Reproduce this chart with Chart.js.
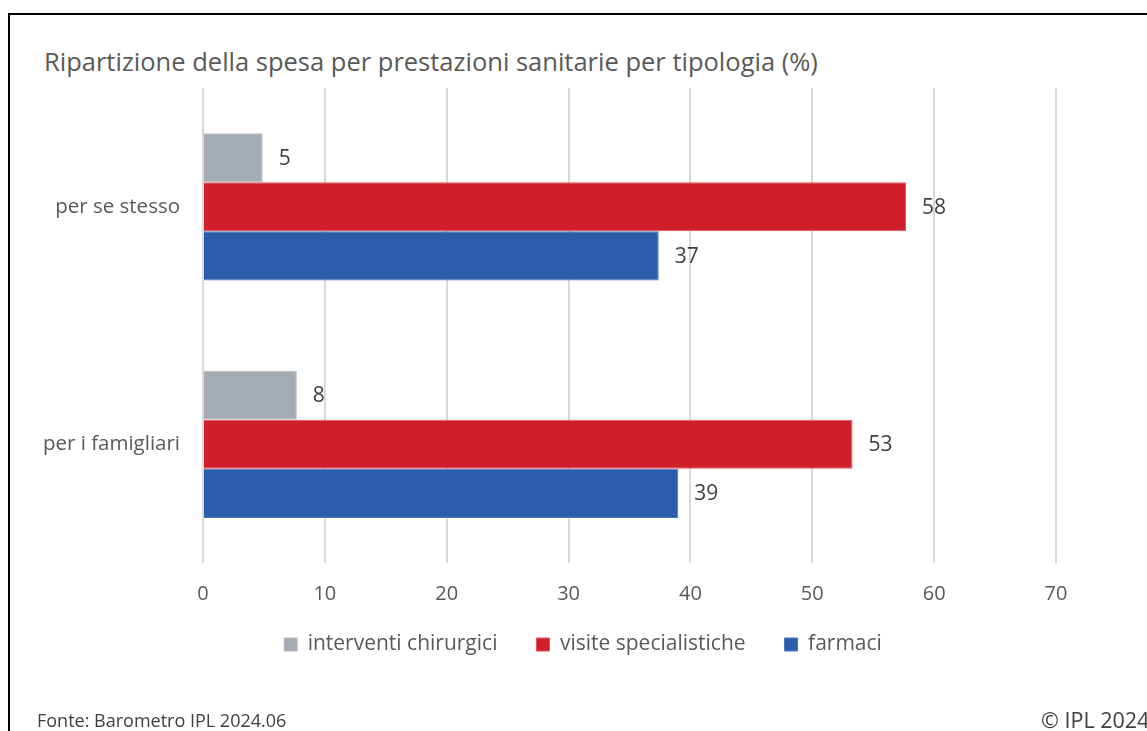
<!DOCTYPE html>
<html>
<head>
<meta charset="utf-8">
<script src="https://cdn.jsdelivr.net/npm/chart.js@4"></script>
<style>
  html, body { margin: 0; padding: 0; background: #fff; overflow: hidden; }
  #wrap { position: relative; width: 1147px; height: 731px; font-family: "Open Sans", sans-serif; }
  #frame { position: absolute; left: 8px; top: 13px; width: 1200px; height: 800px; border: 2px solid #000; pointer-events: none; }
  #title { position: absolute; left: 44px; top: 45px; font-size: 25.5px; line-height: 32px; color: #595959; white-space: nowrap; }
  #src { position: absolute; left: 37px; top: 709px; font-size: 18px; line-height: 22px; color: #404040; white-space: nowrap; }
  #copy { position: absolute; left: 1041px; top: 708px; font-size: 21.5px; line-height: 24px; color: #404040; white-space: nowrap; }
  canvas { position: absolute; left: 0; top: 0; }
</style>
</head>
<body>
<div id="wrap">
  <div id="frame"></div>
  <div id="title">Ripartizione della spesa per prestazioni sanitarie per tipologia (%)</div>
  <canvas id="chart" width="1147" height="731"></canvas>
  <div id="src">Fonte: Barometro IPL 2024.06</div>
  <div id="copy">© IPL 2024</div>
</div>
<script>
// data
const categories = ["per se stesso", "per i famigliari"];
const seriesNames = ["interventi chirurgici", "visite specialistiche", "farmaci"];
const interventi = [4.9, 7.7];
const visite = [57.7, 53.3];
const farmaci = [37.4, 39.0];
const xTicks = [0, 10, 20, 30, 40, 50, 60, 70];

const colors = ['#a5abb3', '#cf1f2b', '#2b5dab'];
const edges = ['#b4b9c0', '#e0535b', '#4a78c0'];

// value labels right of each bar
const barLabels = {
    id: 'barLabels',
    afterDatasetsDraw(chart) {
        const ctx = chart.ctx;
        ctx.save();
        ctx.font = '21px "Open Sans"';
        ctx.fillStyle = '#404040';
        ctx.textAlign = 'left';
        ctx.textBaseline = 'middle';
        chart.data.datasets.forEach((ds, i) => {
            chart.getDatasetMeta(i).data.forEach((bar, j) => {
                ctx.fillText(Math.round(ds.data[j]), bar.x + 16, bar.y + 1);
            });
        });
        ctx.restore();
    }
};

// legend sits centred under the plot and a bit closer to the axis
const shiftLegend = {
    id: 'shiftLegend',
    afterLayout(chart) {
        const dx = 55, dy = -30;
        chart.legend.left += dx;
        chart.legend.right += dx;
        chart.legend.top += dy;
        chart.legend.bottom += dy;
    }
};

const chartData = {
    labels: categories,
    datasets: [interventi, visite, farmaci].map((vals, i) => ({
        label: seriesNames[i],
        data: vals,
        backgroundColor: colors[i],
        borderColor: edges[i],
        borderWidth: 1,
        barPercentage: 1,
        categoryPercentage: 0.62
    }))
};

const chartOptions = {
    indexAxis: 'y',
    responsive: false,
    animation: false,
    layout: {
        padding: { left: 0, right: 91, top: 88, bottom: 36 }
    },
    scales: {
        x: {
            min: 0,
            max: 70,
            afterBuildTicks: (scale) => { scale.ticks = xTicks.map(v => ({ value: v })); },
            ticks: {
                padding: 19,
                color: '#595959',
                font: { family: 'Open Sans', size: 20 }
            },
            grid: { color: '#d9d9d9', lineWidth: 2, drawTicks: false },
            border: { display: false }
        },
        y: {
            afterFit: (scale) => { scale.width = 203; },
            ticks: {
                padding: 23,
                color: '#595959',
                font: { family: 'Open Sans', size: 20.5 }
            },
            grid: { display: false, drawTicks: false },
            border: { display: false }
        }
    },
    plugins: {
        legend: {
            position: 'bottom',
            labels: {
                boxWidth: 13,
                boxHeight: 13,
                padding: 39,
                color: '#595959',
                font: { family: 'Open Sans', size: 21 }
            }
        },
        tooltip: { enabled: false }
    }
};

let chart = new Chart(document.getElementById('chart'), {
    type: 'bar',
    data: chartData,
    options: chartOptions,
    plugins: [barLabels, shiftLegend]
});
</script>
</body>
</html>
